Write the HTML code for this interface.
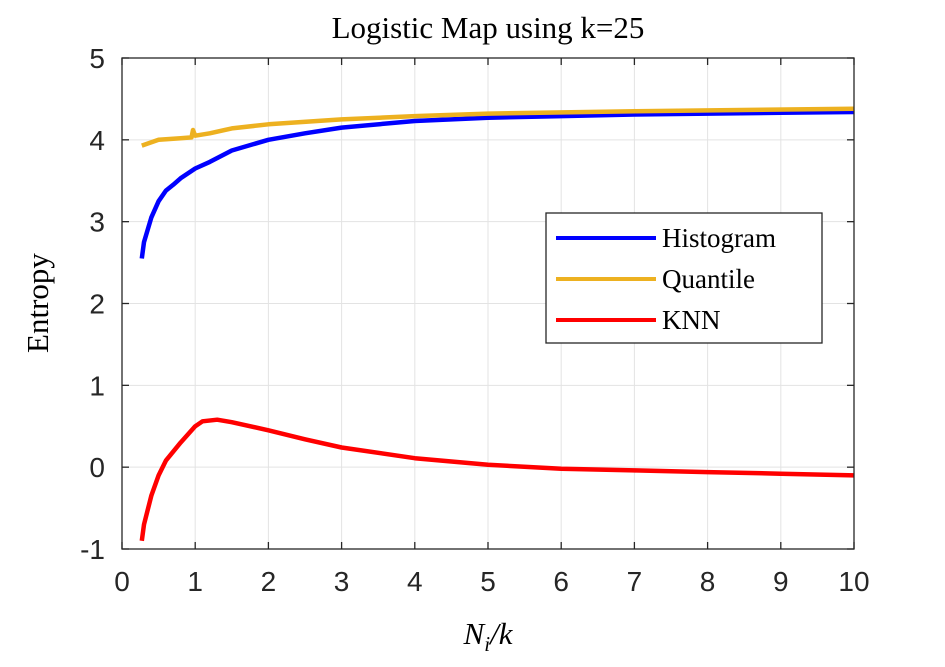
<!DOCTYPE html>
<html><head><meta charset="utf-8"><style>
body{margin:0;background:#fff}
svg text{font-family:"Liberation Sans",sans-serif}
</style></head><body>
<svg id="chart" width="945" height="662" xmlns="http://www.w3.org/2000/svg">
<rect width="945" height="662" fill="#fff"/>
<g id="grid"></g><g id="series"></g><g id="axes"></g>
<text x="488" y="38" font-size="31" text-anchor="middle" style="font-family:'Liberation Serif',serif">Logistic Map using k=25</text>
<text x="488" y="644" font-size="31" text-anchor="middle" font-style="italic" style="font-family:'Liberation Serif',serif">N<tspan font-size="21" dy="7">i</tspan><tspan dy="-7">/k</tspan></text>
<text transform="translate(48,303) rotate(-90)" font-size="31" text-anchor="middle" style="font-family:'Liberation Serif',serif">Entropy</text>
<g>
<rect x="546" y="213" width="276" height="130" fill="#fff" stroke="#262626" stroke-width="1.3"/>
<line x1="556" y1="238" x2="656" y2="238" stroke="#0000ff" stroke-width="4"/>
<text x="662" y="247" font-size="27" style="font-family:'Liberation Serif',serif">Histogram</text>
<line x1="556" y1="279" x2="656" y2="279" stroke="#edb120" stroke-width="4"/>
<text x="662" y="288" font-size="27" style="font-family:'Liberation Serif',serif">Quantile</text>
<line x1="556" y1="320" x2="656" y2="320" stroke="#ff0000" stroke-width="4"/>
<text x="662" y="329" font-size="27" style="font-family:'Liberation Serif',serif">KNN</text>
</g>
</svg>
<script>
const xTicks=[0,1,2,3,4,5,6,7,8,9,10];
const yTicks=[-1,0,1,2,3,4,5];
const histX=[0.27,0.3,0.4,0.5,0.6,0.7,0.8,1.0,1.2,1.5,2,2.5,3,4,5,6,7,8,9,10];
const histY=[2.55,2.75,3.05,3.25,3.38,3.45,3.53,3.65,3.73,3.87,4.0,4.08,4.15,4.23,4.27,4.29,4.31,4.32,4.33,4.34];
const quantX=[0.27,0.5,0.8,0.95,0.97,1.0,1.2,1.5,2,3,4,5,7,10];
const quantY=[3.93,4.0,4.02,4.03,4.12,4.05,4.08,4.14,4.19,4.25,4.29,4.32,4.35,4.38];
const knnX=[0.27,0.3,0.4,0.5,0.6,0.8,1.0,1.1,1.3,1.5,2,2.5,3,4,5,6,7,8,9,10];
const knnY=[-0.9,-0.7,-0.35,-0.1,0.08,0.3,0.5,0.56,0.58,0.55,0.45,0.34,0.24,0.11,0.03,-0.02,-0.04,-0.06,-0.08,-0.1];
const L=122,R=854,T=58,B=549;
const sx=v=>L+(v-0)/10*(R-L);
const sy=v=>B-(v+1)/6*(B-T);
const NS="http://www.w3.org/2000/svg";
function mk(t,a,p){const e=document.createElementNS(NS,t);for(const k in a)e.setAttribute(k,a[k]);p.appendChild(e);return e;}
const grid=document.getElementById('grid'),axes=document.getElementById('axes'),ser=document.getElementById('series');
xTicks.forEach(t=>{const x=sx(t);
 const g=mk('line',{x1:x,x2:x,y1:T,y2:B,stroke:'#e3e3e3','stroke-width':1},grid);
 
 
 mk('line',{x1:x,x2:x,y1:B,y2:B-7,stroke:'#262626','stroke-width':1.3},axes);
 mk('line',{x1:x,x2:x,y1:T,y2:T+7,stroke:'#262626','stroke-width':1.3},axes);
 const tx=mk('text',{x:x,y:B+42,'font-size':28,'text-anchor':'middle',fill:'#262626'},axes);tx.textContent=t;
 
 
});
yTicks.forEach(t=>{const y=sy(t);
 const g=mk('line',{x1:L,x2:R,y1:y,y2:y,stroke:'#e3e3e3','stroke-width':1},grid);
 
 
 mk('line',{x1:L,x2:L+7,y1:y,y2:y,stroke:'#262626','stroke-width':1.3},axes);
 mk('line',{x1:R,x2:R-7,y1:y,y2:y,stroke:'#262626','stroke-width':1.3},axes);
 const tx=mk('text',{x:L-17,y:y+10,'font-size':28,'text-anchor':'end',fill:'#262626'},axes);tx.textContent=t;
 
 
});
const box=mk('rect',{x:L,y:T,width:R-L,height:B-T,fill:'none',stroke:'#262626','stroke-width':1.3},axes);


function line(xs,ys,c,n){const d=xs.map((x,i)=>(i?'L':'M')+sx(x).toFixed(1)+','+sy(ys[i]).toFixed(1)).join('');
 const p=mk('path',{d:d,fill:'none',stroke:c,'stroke-width':4.5,'stroke-linejoin':'round'},ser);
 
 }
line(histX,histY,'#0000ff','histogram-line');
line(quantX,quantY,'#edb120','quantile-line');
line(knnX,knnY,'#ff0000','knn-line');
</script>
</body></html>
